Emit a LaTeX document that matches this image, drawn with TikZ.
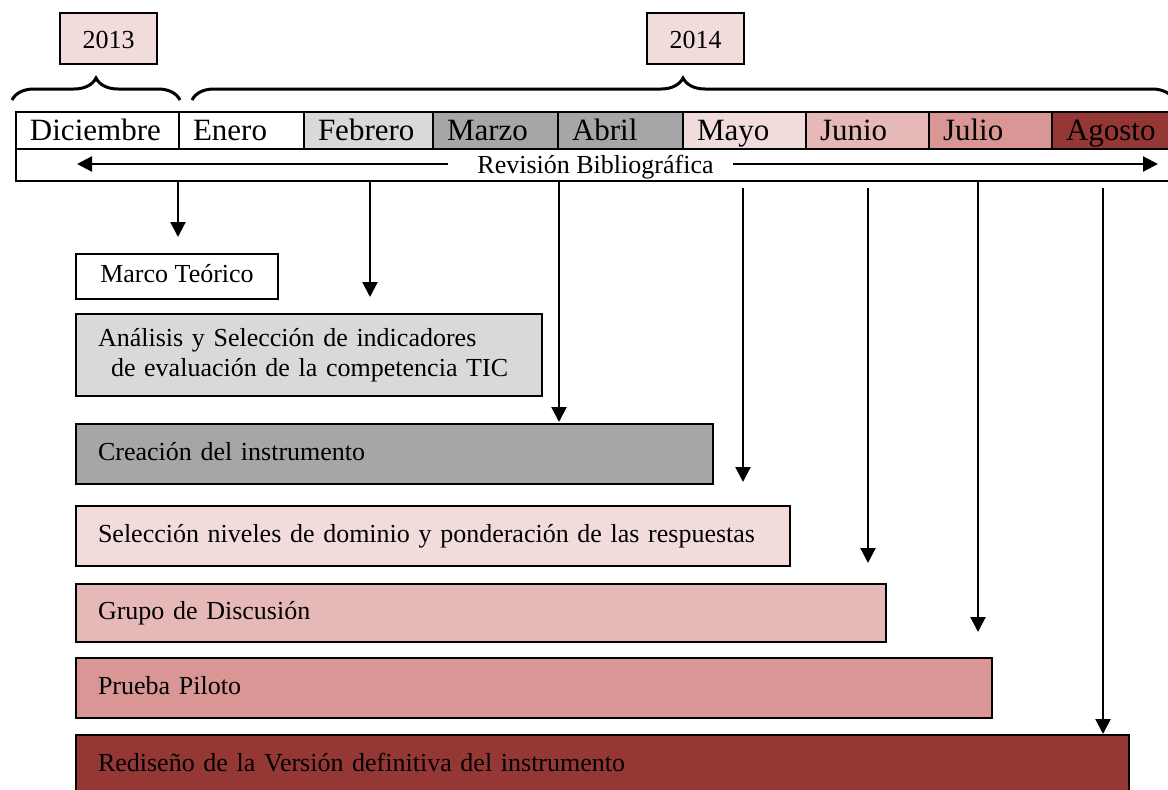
\documentclass[tikz,border=0pt]{standalone}
\usepackage{fontspec}
\setmainfont{Liberation Serif}
\usetikzlibrary{arrows.meta,decorations.pathreplacing}
\definecolor{grisA}{HTML}{D9D9D9}
\definecolor{grisB}{HTML}{A6A6A6}
\definecolor{rosaA}{HTML}{F2DCDB}
\definecolor{rosaB}{HTML}{E6B9B8}
\definecolor{rosaC}{HTML}{D99694}
\definecolor{rojoD}{HTML}{953735}
\begin{document}
\begin{tikzpicture}[x=1pt,y=-1pt,
  cell/.style={draw, line width=2pt, anchor=north west, minimum height=37pt, inner xsep=14pt, inner ysep=0pt, align=left, font=\fontsize{31}{34}\selectfont, text height=22pt, text depth=3pt},
  act/.style={draw, line width=2pt, anchor=north west, inner xsep=22pt, inner ysep=0pt, align=left, font=\fontsize{26}{30}\selectfont},
  one/.style={text height=19pt, text depth=7pt},
  yr/.style={draw, line width=1.5pt, fill=rosaA, minimum width=97pt, minimum height=51pt, inner sep=0pt, font=\fontsize{26}{30}\selectfont, text height=19pt, text depth=0pt},
  brc/.style={decorate, decoration={brace, amplitude=22pt}, line width=3pt},
  arr/.style={line width=2.2pt, -{Triangle[length=15pt,width=15pt]}}
]
\useasboundingbox (0,0) rectangle (1168,790);
\clip (0,0) rectangle (1168,790);

% years and braces
\node[yr] (y13) at (108.5,38.5) {2013};
\node[yr] (y14) at (695.5,38.5) {2014};
\draw[brc] (12,100) -- (180,100);
\draw[brc] (192,100) -- (1174,100);

% month cells
\node[cell, text width=135pt] (dic) at (15,111) {Diciembre};
\node[cell, text width=97pt] (ene) at (178,111) {Enero};
\node[cell, fill=grisA, text width=101pt] (feb) at (303,111) {Febrero};
\node[cell, fill=grisB, text width=97pt] (mar) at (432,111) {Marzo};
\node[cell, fill=grisB, text width=97pt] (abr) at (557,111) {Abril};
\node[cell, fill=rosaA, text width=95pt] (may) at (682,111) {Mayo};
\node[cell, fill=rosaB, text width=95pt] (jun) at (805,111) {Junio};
\node[cell, fill=rosaC, text width=95pt] (jul) at (928,111) {Julio};
\node[cell, fill=rojoD, text width=96pt] (ago) at (1051,111) {Agosto};

% revision row
\node[draw, line width=2pt, anchor=north west, minimum width=1165pt, minimum height=32pt, inner sep=0pt] (row) at (15,148) {};
\node[font=\fontsize{26}{30}\selectfont, anchor=base, inner sep=0pt] (rev) at (595.5,173) {Revisión Bibliográfica};
\coordinate (rl) at (448,164);
\coordinate (rlt) at (77,164);
\coordinate (rr) at (733,164);
\coordinate (rrt) at (1158,164);
\draw[arr] (rl) -- (rlt);
\draw[arr] (rr) -- (rrt);

% activities
\node[act, one, minimum height=45pt, minimum width=202pt] (marco) at (75,253) {Marco Teórico};
\node[act, fill=grisA, minimum height=82pt, text width=422pt] (anal) at (75,313) {Análisis y Selección de indicadores\\\hspace*{13pt}de evaluación de la competencia TIC};
\node[act, one, fill=grisB, minimum height=60pt, text width=593pt] (crea) at (75,423) {Creación del instrumento};
\node[act, one, fill=rosaA, minimum height=60pt, text width=670pt] (sel) at (75,505) {Selección niveles de dominio y ponderación de las respuestas};
\node[act, one, fill=rosaB, minimum height=58pt, text width=766pt] (grupo) at (75,583) {Grupo de Discusión};
\node[act, one, fill=rosaC, minimum height=60pt, text width=872pt] (piloto) at (75,657) {Prueba Piloto};
\node[act, one, fill=rojoD, minimum height=60pt, text width=1009pt] (redis) at (75,734) {Rediseño de la Versión definitiva del instrumento};

% timeline arrows
\coordinate (a1s) at (178,180); \coordinate (a1e) at (178,237);
\coordinate (a2s) at (370,180); \coordinate (a2e) at (370,297);
\coordinate (a3s) at (559,180); \coordinate (a3e) at (559,422);
\coordinate (a4s) at (743,188); \coordinate (a4e) at (743,482);
\coordinate (a5s) at (868,188); \coordinate (a5e) at (868,563);
\coordinate (a6s) at (978,180); \coordinate (a6e) at (978,632);
\coordinate (a7s) at (1103,188); \coordinate (a7e) at (1103,734);
\foreach \i in {1,...,7} {\draw[arr] (a\i s) -- (a\i e);}
\end{tikzpicture}
\end{document}
